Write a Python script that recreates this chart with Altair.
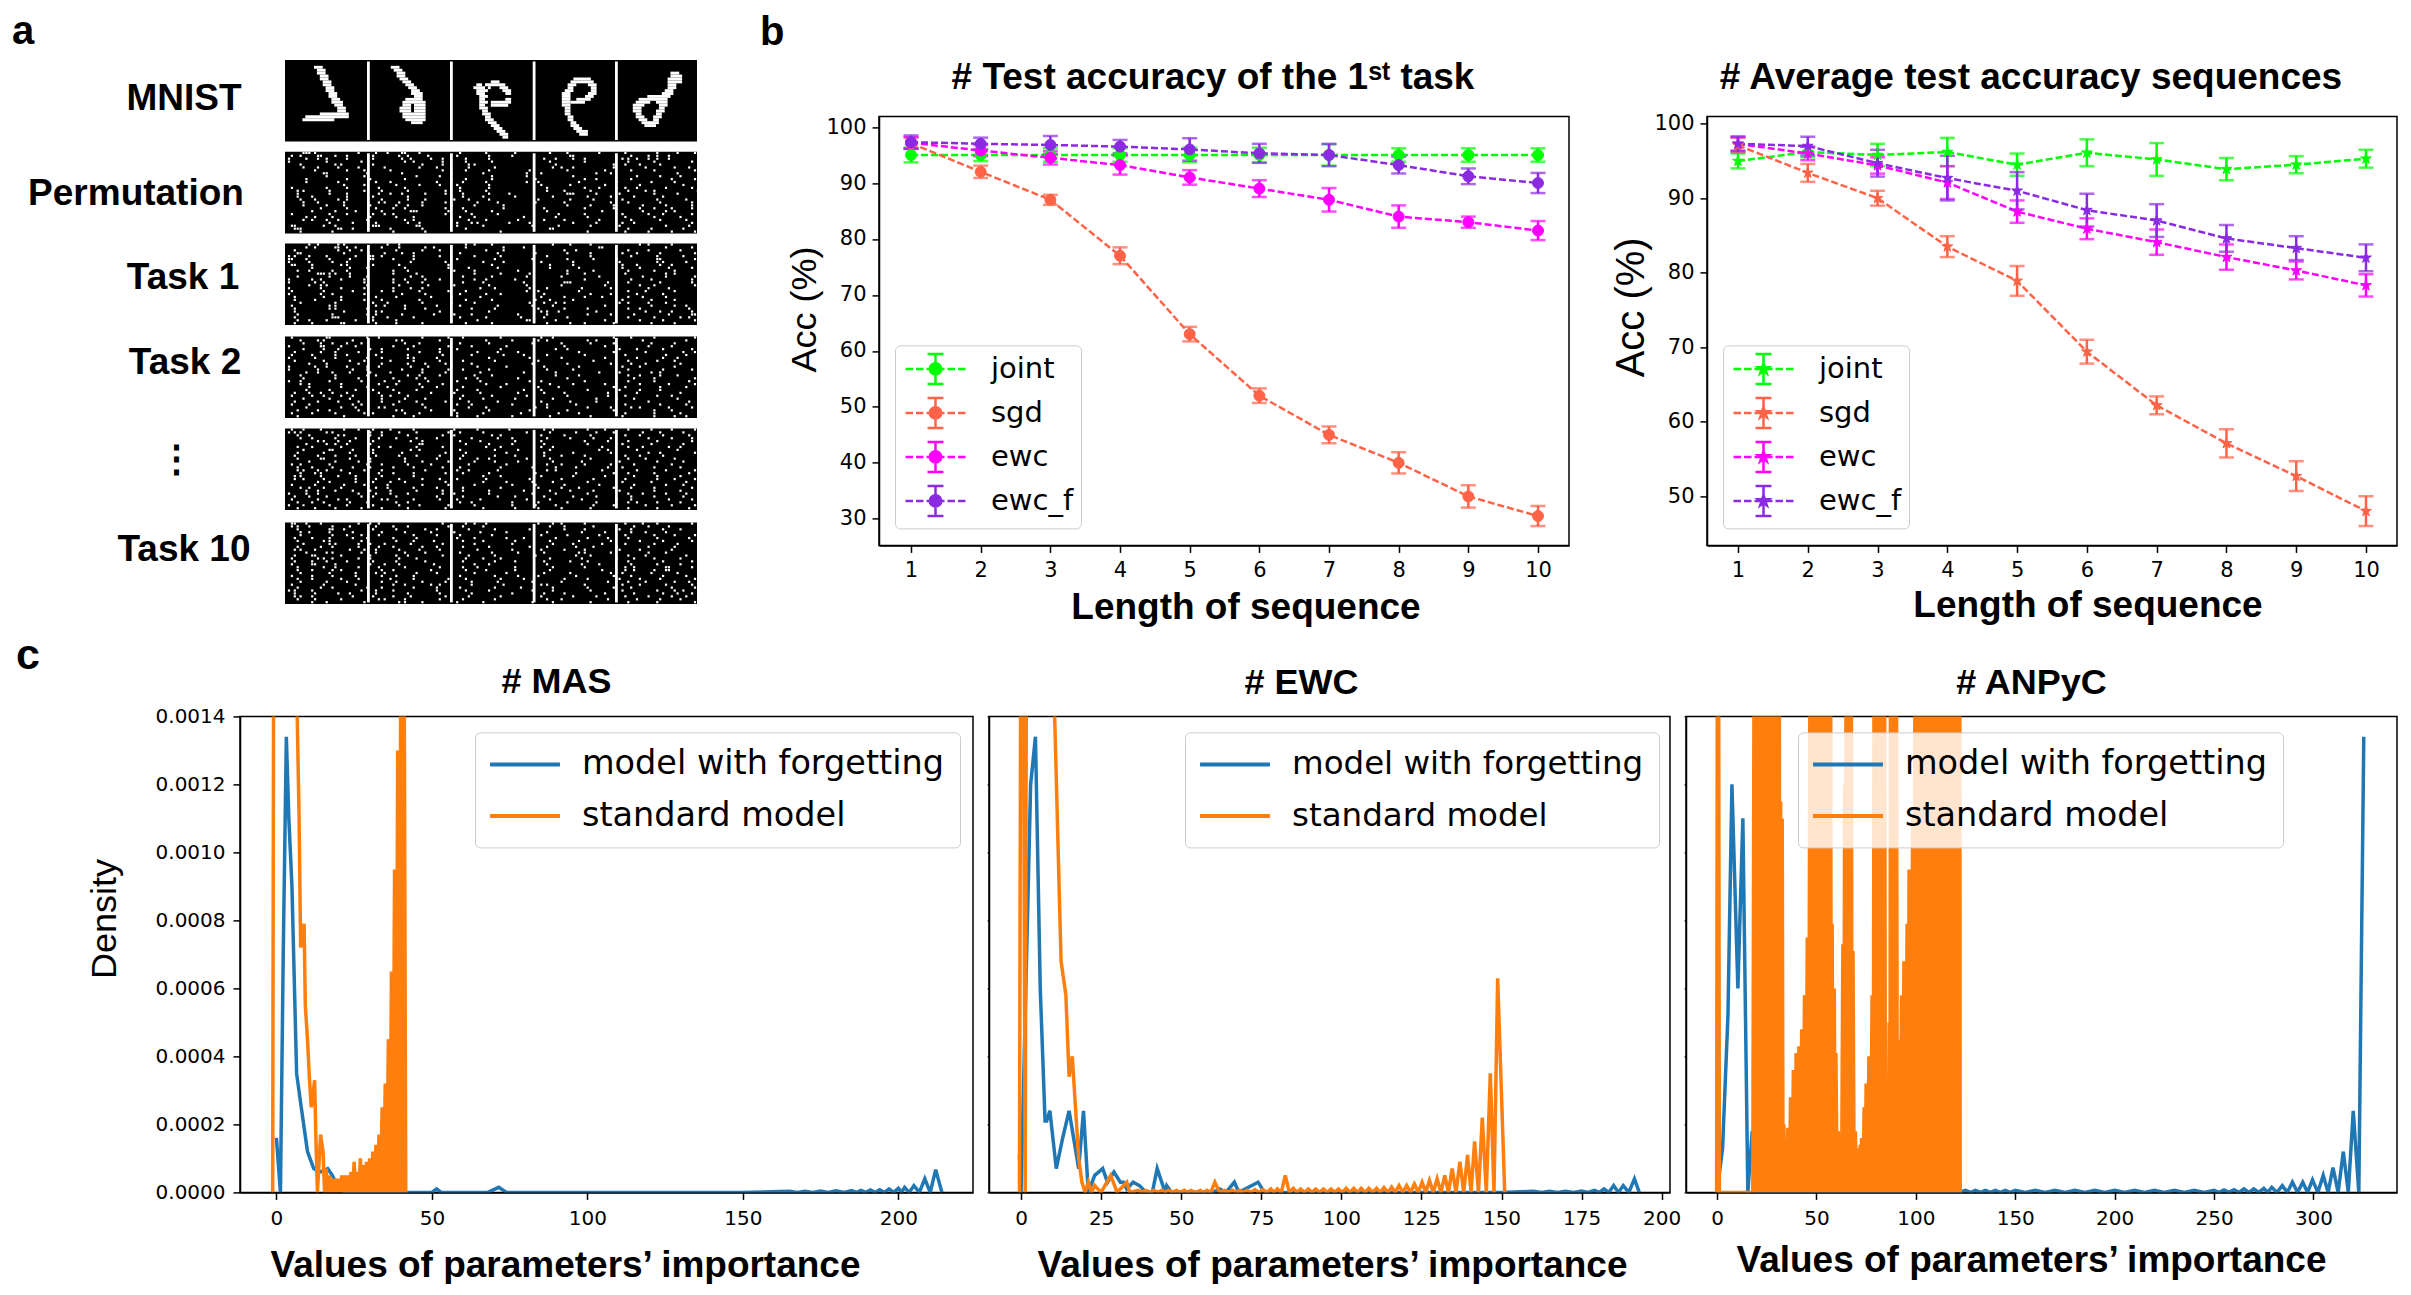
import altair as alt
import pandas as pd

# ---------- panel a : image strips ----------
ROW_LABELS = ["MNIST", "Permutation", "Task 1", "Task 2", "⋮", "Task 10"]
LABEL_CX = [184, 136, 183, 185, 176, 184]
LABEL_CY = [99, 194, 278, 363, 460, 550]
STRIP_TOPS = [59.6, 151.4, 243, 336, 428, 522]
SEPARATORS = [82, 165, 247.7, 330]

# MNIST digits: for each tile, {row: [(first col, last col), ...]}
DIGITS = [
    {2:[(10,12)],3:[(11,13)],4:[(11,13)],5:[(12,14)],6:[(12,14)],7:[(13,15)],8:[(13,15)],9:[(14,16)],10:[(14,16)],
     11:[(15,17)],12:[(15,17)],13:[(16,18)],14:[(16,19)],15:[(17,19)],16:[(18,20)],17:[(18,20)],18:[(12,21)],19:[(7,21)],20:[(6,16)]},
    {2:[(8,10)],3:[(9,11)],4:[(10,12)],5:[(10,12)],6:[(11,13)],7:[(12,14)],8:[(13,15)],9:[(14,16)],10:[(15,17)],11:[(15,18)],
     12:[(16,18)],13:[(13,18)],14:[(12,19)],15:[(12,14),(16,19)],16:[(11,14),(16,19)],17:[(11,14),(16,19)],18:[(12,19)],19:[(12,19)],20:[(13,19)],21:[(15,18)]},
    {7:[(14,16)],8:[(9,10),(12,18)],9:[(8,11),(13,13),(17,19)],10:[(9,12),(18,20)],11:[(9,11),(19,20)],12:[(10,12)],13:[(10,11),(19,20)],
     14:[(10,12),(14,20)],15:[(10,11),(14,19)],16:[(10,12)],17:[(11,12)],18:[(11,13)],19:[(12,13)],20:[(12,14)],21:[(13,15)],22:[(14,16)],
     23:[(15,17)],24:[(16,18)],25:[(17,19)],26:[(18,19)]},
    {6:[(14,19)],7:[(13,20)],8:[(12,14),(19,21)],9:[(12,13),(20,21)],10:[(11,13),(20,21)],11:[(10,12),(19,21)],12:[(10,12),(18,20)],
     13:[(10,12),(15,19)],14:[(10,12),(13,17)],15:[(10,12)],16:[(11,12)],17:[(11,12)],18:[(11,12)],19:[(12,13)],20:[(12,13)],21:[(13,14)],
     22:[(13,15)],23:[(14,16)],24:[(15,18)],25:[(16,18)]},
    {4:[(19,21)],5:[(19,22)],6:[(18,22)],7:[(18,22)],8:[(18,20)],9:[(18,20)],10:[(17,19)],11:[(16,19)],12:[(11,18)],13:[(8,17)],
     14:[(7,11),(14,17)],15:[(6,9),(15,17)],16:[(6,8),(15,16)],17:[(6,8),(14,16)],18:[(7,8),(14,15)],19:[(7,9),(13,15)],20:[(8,10),(13,14)],
     21:[(9,14)],22:[(10,13)]},
]

# White pixels of the permuted strips, by strip row: column numbers across the whole strip
PERMUTATION = [
 [6,7,8,10,25,31,35,40,41,46,60,69,79,91,97,108,117,128,135,141],
 [2,5,11,12,17,21,30,39,42,49,59,70,78,98,99,119,125,128,132],
 [1,7,11,14,21,30,40,43,50,54,62,70,89,93,99,103,116,118,121,125,128,132],
 [1,14,26,41,44,54,62,71,91,103,118,127,140],
 [5,17,19,30,47,54,63,65,93,113,117,122,129],
 [6,11,18,25,34,46,52,63,72,92,95,99,113,124,134,139],
 [10,21,27,36,54,62,70,84,97,110,119,127,141],
 [13,14,28,40,57,68,83,88,107,112,135],
 [14,27,45,53,71,83,99,121,129,136],
 [7,21,29,41,57,62,71,86,103,107,119,133,141],
 [7,18,31,36,52,61,69,83,87,101,114,126,134],
 [20,27,38,46,53,59,70,88,98,110,122,137],
 [2,14,21,32,41,60,70,90,103,108,114,117,121,131,140],
 [4,6,15,27,33,42,55,60,69,90,96,105,118,124,127,142],
 [4,15,21,32,36,40,48,55,61,70,77,97,98,99,107,115,127,135],
 [4,9,21,30,42,57,61,68,79,92,104,112,120,130],
 [5,10,18,21,33,42,48,58,63,70,87,98,106,116,128,138],
 [6,11,20,32,34,39,47,55,66,73,86,96,112,118,129,140],
 [6,14,20,29,38,42,47,57,65,75,97,105,113,123,131,140],
 [12,21,31,37,41,55,61,75,89,103,113,122,127,133,140],
 [9,17,24,33,43,44,45,56,62,71,90,109,123,131,134],
 [2,15,21,30,34,37,55,64,73,94,103,116,125,130,140],
 [7,10,16,29,38,44,60,65,82,93,104,117,127,136],
 [6,9,14,18,28,41,44,57,63,69,80,89,96,108,119,129,138],
 [15,23,31,42,46,59,64,66,77,84,99,107,116,120,140],
 [2,3,13,17,30,31,32,45,46,59,68,85,94,105,115,131,139],
 [3,4,5,18,19,23,36,47,62,91,92,118,126,137],
 [5,16,37,48,74,104,117,125,133,141],
]
TASK1 = [
 [8,11,18,20,35,39,62,65,71,92,98,105,122,125,133],
 [7,10,17,18,21,24,33,39,48,51,62,75,82,108,109,131,140],
 [3,18,22,26,38,47,53,69,75,96,100,118,125,136],
 [4,5,20,34,40,44,60,73,86,97,105,116,121,129,141],
 [1,3,8,14,24,29,30,33,44,53,57,65,74,90,105,119,128,137],
 [1,2,7,15,22,29,30,37,44,59,72,85,97,106,114,128,129,141],
 [1,8,16,21,43,55,68,75,88,99,115,128,130,138],
 [2,3,9,19,21,30,39,56,71,91,99,116,121,129,133],
 [9,22,28,41,56,63,73,91,101,116,122,132,140],
 [4,8,16,21,37,42,58,65,80,97,106,118,127,134],
 [11,12,13,15,17,22,37,45,65,74,84,97,103,117,131,134],
 [4,15,22,28,43,47,61,71,83,95,108,123,131,141],
 [1,9,12,19,27,37,41,48,53,65,69,79,103,119,126,140],
 [1,10,13,27,37,42,47,61,68,82,96,97,98,111,118,129,140],
 [8,12,14,28,39,49,58,70,83,95,110,122,127,141],
 [1,12,19,27,37,43,47,67,72,84,90,102,112,125,132],
 [2,13,23,33,37,46,56,62,83,87,101,118,124,134],
 [1,12,16,27,40,48,60,69,74,89,105,112,121,130],
 [3,13,19,31,38,50,57,67,88,96,103,109,118,123,131],
 [3,10,19,27,33,46,62,71,86,91,99,116,126,134],
 [5,17,30,35,47,57,65,84,89,93,96,115,118,125,131],
 [2,15,17,31,34,41,52,60,73,85,92,110,126,134,138],
 [3,15,17,28,41,48,64,72,87,96,104,118,122,139],
 [3,20,31,33,53,70,88,90,94,107,124,129,133,140],
 [4,16,28,31,40,51,58,64,80,90,104,112,120,132,140,141],
 [3,16,17,18,30,35,44,60,69,81,89,97,118,127,136,139],
 [4,8,14,24,30,38,57,66,83,84,93,110,122,130,141],
 [3,9,19,20,31,38,47,62,71,90,98,103,113,126,134],
]
TASK2 = [
 [2,14,15,28,32,47,56,61,74,88,92,113,119,127,141],
 [5,11,13,23,38,40,53,69,78,87,90,104,107,123,138],
 [6,12,16,21,26,41,46,60,70,85,95,105,113,126,134],
 [1,12,13,19,24,37,44,56,64,76,96,110,114,125,133],
 [6,13,18,29,33,42,53,59,74,93,97,115,121,130,140],
 [3,12,17,25,33,46,53,66,73,80,101,113,124,137,141],
 [2,9,17,21,31,42,54,64,75,82,90,103,117,131,138],
 [1,10,17,28,33,42,44,52,70,84,95,110,121,130,135],
 [3,13,22,27,36,44,53,61,72,87,106,118,128,134],
 [8,14,25,33,42,48,55,64,85,97,112,119,124,136],
 [1,10,14,21,28,32,43,49,57,66,76,89,101,116,122,134],
 [1,11,23,28,40,47,56,61,70,90,99,118,130,140],
 [7,11,16,22,29,36,47,55,67,82,93,108,115,126,129],
 [5,17,28,31,42,46,53,65,71,93,101,118,122,129,135],
 [6,17,25,37,45,48,62,66,80,97,114,120,127,141],
 [1,5,15,26,34,39,49,59,67,84,88,103,118,127,139],
 [5,8,19,32,38,46,54,69,76,91,99,110,122,132,141],
 [8,19,28,35,47,52,61,74,87,94,113,117,129,138],
 [7,15,24,30,37,45,59,66,82,88,104,115,122,129],
 [3,8,12,16,21,32,39,50,58,67,80,89,96,111,121,136],
 [2,9,13,19,23,33,36,42,57,61,71,83,97,111,117,128,133],
 [6,15,22,33,41,48,60,68,79,92,107,114,120,135],
 [3,11,18,25,33,39,45,55,63,73,88,98,107,125,139],
 [2,8,23,26,37,47,59,64,78,90,100,117,129,138],
 [7,19,24,32,34,48,63,69,86,90,104,112,119,122,132,140],
 [4,11,15,25,38,40,50,58,70,84,97,113,127,133],
 [2,9,17,27,30,41,46,59,68,81,94,101,117,127,136],
 [4,20,37,44,59,66,78,91,105,116,127,134,138],
]
DOTS_GAP = [
 [2,6,12,20,25,30,36,44,58,66,77,89,92,104,110,118,126,133,141],
 [1,3,5,14,16,29,33,39,45,56,60,68,83,91,100,107,113,123,129,137],
 [4,8,18,20,29,33,42,54,58,71,74,88,96,105,117,122,130,139],
 [5,9,17,24,32,38,45,52,64,73,78,90,98,106,112,125,133,140],
 [11,13,18,22,30,43,47,60,67,79,88,103,111,118,128,140],
 [7,14,17,21,29,46,47,62,70,78,89,104,116,126,137],
 [4,9,19,32,36,45,54,69,74,88,92,109,118,123,132,136],
 [6,15,16,23,30,43,46,60,72,80,91,108,111,121,135],
 [4,13,22,30,40,55,62,76,89,99,112,125,129,141],
 [3,11,17,24,31,39,45,53,61,72,79,89,95,103,117,122,130],
 [4,12,13,22,29,41,52,60,66,70,83,91,105,118,124,134],
 [8,17,25,29,41,47,56,65,72,80,92,102,115,128,137],
 [2,5,15,28,33,42,50,63,76,90,95,103,112,120,133],
 [4,9,16,23,29,37,44,54,60,74,85,93,100,111,116,127,136],
 [4,6,11,14,19,27,33,48,59,63,73,90,93,109,121,131,141],
 [5,10,12,22,32,37,44,55,61,70,86,100,113,118,127,139],
 [3,5,12,18,24,33,44,57,68,74,88,99,110,120,128,136],
 [3,6,13,24,31,39,47,53,59,69,84,95,106,117,128,134,141],
 [11,15,24,30,36,41,55,68,76,85,92,104,116,126,138],
 [2,10,20,27,35,47,56,65,78,86,96,108,120,131,137],
 [5,8,13,19,31,35,44,52,61,74,87,95,101,113,119,127,140],
 [7,11,17,23,29,36,45,54,61,70,82,91,98,106,115,127,136],
 [1,7,11,25,31,36,42,54,58,70,85,93,104,118,123,131,138],
 [3,8,14,26,30,38,52,61,73,79,89,99,107,119,127,137],
 [2,11,18,21,33,35,44,53,59,67,83,91,102,114,119,132,140],
 [4,9,13,22,28,38,42,60,64,78,87,97,107,118,121,128,136],
 [1,6,15,21,30,39,46,56,65,78,86,93,106,113,124,133,141],
 [4,10,17,26,33,42,55,68,79,87,95,105,118,128,139],
]
DOTS_LAST = [
 [2,3,7,12,25,29,32,54,62,65,69,87,92,95,103,117,123,128,140],
 [2,4,8,16,22,31,37,42,56,61,68,91,96,106,120,125,132],
 [4,15,16,20,30,38,48,52,63,72,84,96,103,115,119,130,136],
 [5,8,15,23,33,41,50,58,67,76,90,102,110,119,124,131],
 [5,16,21,26,32,44,52,60,71,88,97,108,117,127,134,141],
 [3,9,15,23,28,37,45,59,65,76,82,93,104,111,118,128,139],
 [4,13,15,26,38,44,51,61,68,79,91,101,112,122,130,140],
 [6,15,17,25,29,34,43,54,65,78,92,99,109,117,127,135],
 [4,12,16,25,32,37,47,52,61,70,84,90,100,106,114,125,134],
 [3,5,10,22,27,31,39,46,53,66,78,88,96,103,115,122,133],
 [7,14,16,26,31,41,48,60,71,80,89,101,103,112,125,131],
 [3,9,10,19,29,38,42,54,63,72,86,100,105,118,124,138],
 [2,11,13,16,25,29,39,45,62,68,74,91,102,114,120,127,136],
 [3,9,14,21,30,38,48,61,72,79,89,98,104,118,130,140],
 [2,9,10,17,29,34,39,51,65,70,90,102,108,119,128,136],
 [4,13,17,25,32,41,53,61,66,79,92,103,117,120,131,132,140],
 [4,9,16,19,33,37,50,62,69,79,91,109,117,120,127,131,132],
 [5,15,24,31,34,45,52,65,76,89,98,112,116,126,135],
 [2,9,16,24,33,38,44,60,72,80,87,100,113,119,130,138],
 [4,9,19,25,36,44,56,62,74,82,96,104,115,122,129,141],
 [5,14,21,33,38,47,55,64,73,85,95,111,118,124,134,139],
 [2,13,24,37,41,50,53,64,75,88,90,103,116,122,131,140],
 [4,12,16,28,33,44,52,60,72,81,92,104,113,119,133,141],
 [1,3,9,26,31,37,52,62,70,85,92,105,116,128,134,137],
 [3,10,18,22,31,42,53,64,78,89,96,110,120,130,135,140],
 [3,5,9,23,30,37,43,55,63,74,88,99,107,117,125,133,138],
 [4,10,19,32,34,41,53,61,72,90,95,111,121,129,136],
 [9,14,27,39,41,47,59,68,85,92,105,118,128,141],
]

PANEL_TEXT = ["a", "b"]
PANEL_TEXT_X = [12, 760]
PANEL_TEXT_Y = [44, 45]

# ---------- panel b : accuracy ----------
SEQ = [1, 2, 3, 4, 5, 6, 7, 8, 9, 10]
NAMES = ["joint", "sgd", "ewc", "ewc_f"]
COLORS = ["#00ff00", "#ff6347", "#ff00ff", "#8a2be2"]

T1_JOINT = [95, 95, 95, 95, 95, 95, 95, 95, 95, 95]
T1_JOINT_E = [1.3, 1.1, 1.2, 1.2, 1.3, 1.3, 1.9, 1.2, 1.2, 1.2]
T1_SGD = [97.1, 92, 87, 77, 63, 52, 45, 40, 34, 30.5]
T1_SGD_E = [1, 1.1, 0.9, 1.5, 1.3, 1.3, 1.5, 1.9, 2, 1.8]
T1_EWC = [97.2, 95.8, 94.5, 93.2, 91, 89, 87, 84, 83, 81.5]
T1_EWC_E = [1, 1, 1.2, 1.7, 1.3, 1.5, 2.1, 2, 1, 1.7]
T1_EWCF = [97.3, 97, 96.8, 96.5, 96, 95.3, 95, 93.2, 91.2, 90]
T1_EWCF_E = [1.2, 1.1, 1.6, 1.2, 2, 1.7, 2, 1.5, 1.4, 1.8]

AV_JOINT = [95, 96.2, 95.8, 96.2, 94.5, 96.1, 95.2, 93.9, 94.5, 95.3]
AV_JOINT_E = [1, 0.7, 1.5, 1.9, 1.5, 1.8, 2.2, 1.5, 1.15, 1.2]
AV_SGD = [97.1, 93.4, 90, 83.5, 78.9, 69.4, 62.2, 57.1, 52.7, 48]
AV_SGD_E = [1, 1.2, 1, 1.4, 2, 1.6, 1.2, 1.9, 2, 2]
AV_EWC = [97.3, 96, 94.4, 92.1, 88.2, 85.9, 84.1, 82.1, 80.3, 78.3]
AV_EWC_E = [0.9, 0.9, 1.1, 2.2, 1.5, 1.4, 1.7, 1.7, 1.2, 1.5]
AV_EWCF = [97.3, 97, 94.7, 92.7, 91, 88.4, 87, 84.6, 83.3, 82]
AV_EWCF_E = [1, 1.25, 1.8, 3, 2.5, 2.2, 2.2, 1.8, 1.6, 1.8]

# ---------- panel c : densities ----------
DENS = ["model with forgetting", "standard model"]
DCOL = ["#1f77b4", "#ff7f0e"]

MAS_B_X = [0, 1.3, 2.2, 3.2, 4, 5, 6.5, 8, 10, 12, 14, 16.5, 18, 19, 20, 22, 50, 51.5, 53, 68, 71.5, 74, 150]
MAS_B_Y = [.00016, 0, .0007, .00134, .0011, .0009, .00035, .00025, .00012, .00007, .00006, .00007, .00005, .00003, .00003, 0, 0, .00001, 0, 0, .000015, 0, 0]
MAS_B_PX = [165, 170, 175, 180, 185, 188, 191, 194, 197, 200, 202, 205, 208.5, 212]
MAS_B_PY = [.000003, .000003, .000004, .000005, .000005, .000006, .000007, .000008, .00001, .000012, .000015, .00002, .00004, .000067]
MAS_O_X = [-1.2, -0.6, 6.2, 6.7, 7.3, 7.8, 8.9, 9.3, 10, 10.6, 11.2, 12.3, 12.7, 13.2, 14.2]
MAS_O_Y = [0, .003, .003, .0014, .0011, .00072, .00079, .00055, .00045, .00034, .00025, .00033, .00016, 0, .00017]
MAS_O_PX = [15, 16, 17, 18, 19, 20, 21, 22, 23, 24, 25, 26, 27, 28, 29, 30, 31, 32, 33, 34, 35, 36, 37, 38, 39, 40, 41]
MAS_O_PY = [.00012, .00007, .00005, .00004, .00004, .00004, .00005, .00005, .00005, .00006, .00009, .00006, .0001, .00008, .00009, .0001, .00012, .00014, .00017, .00025, .00032, .00045, .00065, .00095, .0013, .0016, .0018]

EWC_B_X = [-0.5, 0, 2, 3, 4.5, 6, 7.5, 8, 9, 11, 13, 15, 18, 19.5, 21, 23, 25.5, 27, 29, 31, 32, 33, 35, 37, 39, 41, 42.5, 45, 45.5, 47, 60, 62, 64, 66.6, 68, 74, 76, 150]
EWC_B_Y = [.00011, 0, .0008, .0012, .00134, .0006, .00021, .00021, .00024, .00007, .00016, .00024, .00007, .00024, 0, .00005, .00007, .00003, .00006, .00003, .00003, .00001, .00003, .00002, 0, 0, .00007, 0, .00002, 0, 0, .00001, 0, .00003, 0, .00003, 0, 0]
EWC_B_PX = [160, 165, 170, 175, 179, 182, 185, 188, 191.5]
EWC_B_PY = [.000003, .000003, .000003, .000004, .000006, .00001, .00002, .00002, .00004]
EWC_O_X = [-0.5, 0, 0.6, 1.3, 2, 10, 10.5, 12.5, 14, 15, 16, 17, 18, 19, 20, 21, 22, 23, 25, 28, 30, 33, 34]
EWC_O_Y = [0, .002, .002, 0, .003, .003, .0014, .00068, .00058, .00034, .0004, .00025, .0001, .00003, 0, .00003, 0, .00002, 0, .00005, 0, .00003, 0]
EWC_O_PX = [36.5, 39, 41.5, 44, 46, 48.5, 51, 53, 56, 58, 60.5, 63.5, 66, 68.3, 70.5, 73, 75.5, 78, 80, 82.5, 85, 87.3, 89.7, 92, 94.4, 96.8, 99.1, 101.5, 103.9, 106.2, 108.6, 111, 113.3, 115.7, 118, 120.4, 122.8, 125.2, 127.5, 129.9, 132.3, 134.6, 137, 139.4, 141.6, 144, 146.5, 148.8]
EWC_O_PY = [.000006, .000006, .000006, .000006, .000006, .000006, .000006, .000006, .000006, .000006, .00003, .000006, .000006, .000006, .000006, .000008, .000008, .00001, .00001, .00005, .000012, .00001, .00001, .00001, .00001, .00001, .00001, .000012, .000012, .000012, .000012, .000012, .000014, .000016, .00002, .00002, .000025, .00003, .000035, .00004, .00005, .00007, .00009, .00011, .00015, .00022, .00035, .00063]

ANP_B_X = [0, 2.8, 5.5, 7.5, 10.5, 13, 15.5, 17.7, 20, 122]
ANP_B_Y = [0, .00013, .00052, .0012, .0006, .0011, 0, .00018, 0, 0]
ANP_B_PX = [125, 130, 135, 140, 145, 150, 160, 170, 180, 190, 200, 210, 220, 230, 240, 250, 255, 260, 265, 270, 275, 279, 284.3, 289.4, 294.6, 299.5, 304.9, 309.8, 315, 320]
ANP_B_PY = [.000006, .000006, .000006, .000006, .000006, .000006, .000006, .000006, .000006, .000006, .000006, .000006, .000006, .000006, .000006, .000006, .000007, .000008, .00001, .00001, .000012, .000015, .00002, .00003, .00003, .000037, .00005, .000073, .00012, .00024]
ANP_B_EX = [322.8, 325.3]
ANP_B_EY = [0, .00134]
ANP_O_X = [-0.2, 0.5, 1.2, 18]
ANP_O_Y = [0, .003, 0, 0]
ANP_O_PX = [19, 20.4, 21.8, 23.2, 24.6, 26, 27.4, 28.8, 30.2, 31.2, 32, 32.8, 33.6, 34.6, 35.6, 37, 38.4, 39.8, 41.2, 42.6, 44, 45.4, 46.8, 47.8, 48.9, 50, 51.4, 52.8, 54.2, 55.6, 57, 57.9, 59, 59.8, 61, 62, 63.3, 64.2, 65, 66.2, 67.4, 68.4, 69.6, 70.8, 72, 72.7, 74, 75, 76.4, 78, 79.2, 80.4, 81.6, 82.8, 84, 85.5, 86.6, 87.4, 88.6, 90, 91.4, 92.8, 94, 95.6, 96.6, 98.4, 99.8, 101.2, 102.6, 104, 105.4, 106.8, 108.2, 109.6, 111, 112.4, 113.8, 115.2, 116.6, 118, 119.4, 120.8, 122]
ANP_O_PY = [.0025, .0025, .0025, .0025, .0025, .0025, .0025, .0025, .0025, .0025, .00115, .0011, .0002, .00012, .00019, .00028, .00036, .00041, .00043, .00048, .00058, .00075, .0017, .0025, .0009, .0025, .0025, .0025, .0025, .0025, .0025, .00079, .0006, .00041, .00018, .00013, .00073, .0012, .0025, .0025, .0025, .00071, .00018, .00013, .00014, .00016, .00025, .00032, .0004, .00058, .0025, .0025, .0025, .0025, .0025, .00012, .0005, .0025, .0025, .0025, .00045, .00058, .00068, .00079, .00095, .0011, .0025, .0025, .0025, .0025, .0025, .0025, .0025, .0025, .0025, .0025, .0025, .0025, .0025, .0025, .0025, .0025, .0025]

SANS = "Liberation Sans"
TICK_FONT = "DejaVu Sans"


def comb(px, py):
    xs, ys = [], []
    for i, (a, b) in enumerate(zip(px, py)):
        if i:
            xs.append((px[i - 1] + a) / 2)
            ys.append(0)
        xs.append(a)
        ys.append(b)
    return xs, ys


# ---------- build panel a ----------
CW = 2.9
CH = 81.6 / 28
DOT = 2.2
OX = 285
strip_bg = pd.DataFrame({"x": [OX] * 6, "x2": [OX + 412] * 6, "y": STRIP_TOPS,
                         "y2": [t + 81.6 for t in STRIP_TOPS]})
sep_rows, cells = [], []
for t in STRIP_TOPS:
    for s in SEPARATORS:
        sep_rows.append({"x": OX + s, "x2": OX + s + 2.8, "y": t + 1.5, "y2": t + 80})
for tile, digit in enumerate(DIGITS):
    for row, runs in digit.items():
        for first, last in runs:
            x0 = OX + tile * 82.6 + first * CW
            cells.append({"x": x0, "x2": x0 + (last - first + 1) * CW,
                          "y": STRIP_TOPS[0] + row * CH, "y2": STRIP_TOPS[0] + (row + 1) * CH})
for strip, rows in zip(STRIP_TOPS[1:], [PERMUTATION, TASK1, TASK2, DOTS_GAP, DOTS_LAST]):
    for r, cols in enumerate(rows):
        for c in cols:
            x0 = OX + c * CW
            cells.append({"x": x0, "x2": x0 + DOT, "y": strip + r * CH, "y2": strip + r * CH + DOT})

AX0, AY0, AW, AH = 240, 116, 501, 429
sxa = alt.Scale(domain=[AX0, AX0 + AW], range=[0, AW], nice=False, zero=False)
sya = alt.Scale(domain=[AY0, AY0 + AH], range=[0, AH], nice=False, zero=False)


def rects(df, color):
    return alt.Chart(pd.DataFrame(df)).mark_rect(color=color).encode(
        x=alt.X("x:Q", scale=sxa, axis=None), x2="x2:Q",
        y=alt.Y("y:Q", scale=sya, axis=None), y2="y2:Q")


def texts(labels, xs, ys, size, align):
    return alt.Chart(pd.DataFrame({"t": labels, "x": xs, "y": ys})).mark_text(
        font=SANS, fontWeight="bold", fontSize=size, align=align, baseline="alphabetic"
    ).encode(x=alt.X("x:Q", scale=sxa, axis=None), y=alt.Y("y:Q", scale=sya, axis=None), text="t:N")


row_text = alt.Chart(pd.DataFrame({"t": ROW_LABELS, "x": LABEL_CX, "y": LABEL_CY})).mark_text(
    font=SANS, fontWeight="bold", fontSize=37, align="center", baseline="middle"
).encode(x=alt.X("x:Q", scale=sxa, axis=None), y=alt.Y("y:Q", scale=sya, axis=None), text="t:N")

panel_a = alt.layer(
    rects(strip_bg, "black"), rects(sep_rows, "white"), rects(cells, "white"),
    row_text, texts(PANEL_TEXT, PANEL_TEXT_X, PANEL_TEXT_Y, 40, "left"),
).properties(width=AW, height=AH, view=alt.ViewBackground(stroke=None))


# ---------- build panel b ----------
def glyph(marker):
    dashes = "M-2,0L-1.5,0M-1.3,0L-0.8,0M-0.6,0L-0.1,0M0.1,0L0.6,0M0.8,0L1.3,0M1.5,0L2,0"
    bar = "M0,-1L0,1M-0.53,-1L0.53,-1M-0.53,1L0.53,1"
    return dashes + bar + marker


STAR = "M0,-1L0.225,-0.309L0.951,-0.309L0.363,0.118L0.588,0.809L0,0.382L-0.588,0.809L-0.363,0.118L-0.951,-0.309L-0.225,-0.309Z"
CIRCLE_L = "M-0.38,0A0.38,0.38 0 1,1 0.38,0A0.38,0.38 0 1,1 -0.38,0Z"
STAR_L = "M0,-0.38L0.086,-0.117L0.361,-0.117L0.138,0.045L0.223,0.307L0,0.145L-0.223,0.307L-0.138,0.045L-0.361,-0.117L-0.086,-0.117Z"


def acc_panel(series, errs, title, dx, dy, yticks, ydom, xdom, shape, mark_size, leg_marker, leg_x,
              title_x, title_y, ytitle_y, ysize):
    rows = []
    for name, vals, es in zip(NAMES, series, errs):
        for x, v, e in zip(SEQ, vals, es):
            rows.append({"x": x, "v": v, "lo": v - e, "hi": v + e, "name": name})
    df = pd.DataFrame(rows)
    sc = alt.Scale(domain=NAMES, range=COLORS)
    sy = alt.Scale(domain=ydom, nice=False, zero=False)
    X = alt.X("x:Q", scale=alt.Scale(domain=xdom, nice=False, zero=False),
              axis=alt.Axis(values=SEQ, format="d", grid=False, title="Length of sequence",
                            titleFont=SANS, titleFontWeight="bold", titleFontSize=37,
                            titleX=title_x, titleY=title_y, titleAlign="center", titleBaseline="alphabetic",
                            labelFont=TICK_FONT, labelFontSize=21, labelColor="black", labelPadding=7,
                            tickColor="black", tickWidth=1.5, tickSize=7, domainColor="black", domainWidth=1.5))
    Y = alt.Y("v:Q", scale=sy,
              axis=alt.Axis(values=yticks, grid=False, title="Acc (%)", titleFont=SANS,
                            titleFontWeight="normal", titleFontSize=ysize, titleX=-75, titleY=ytitle_y,
                            titleAlign="center", titleBaseline="middle", titleAngle=270,
                            labelFont=TICK_FONT, labelFontSize=21, labelColor="black", labelPadding=6,
                            tickColor="black", tickWidth=1.5, tickSize=7, domainColor="black", domainWidth=1.5))
    legend = alt.Legend(title=None, orient="none", legendX=leg_x, legendY=229, zindex=1,
                        fillColor="rgba(255,255,255,0.8)", strokeColor="#cccccc", cornerRadius=5, padding=7,
                        labelFont=TICK_FONT, labelFontSize=29, labelColor="black", labelLimit=0,
                        symbolType=glyph(leg_marker), symbolSize=900, symbolOffset=17, labelOffset=39,
                        rowPadding=3, symbolStrokeWidth=2.5)
    layers = []
    for name, color in zip(NAMES, COLORS):
        base = alt.Chart(df[df["name"] == name])
        layers += [
            base.mark_rule(strokeWidth=2.5, color=color).encode(x=X, y=alt.Y("lo:Q", scale=sy), y2="hi:Q"),
            base.mark_tick(orient="horizontal", size=15, thickness=2.5, color=color).encode(x=X, y=alt.Y("lo:Q", scale=sy)),
            base.mark_tick(orient="horizontal", size=15, thickness=2.5, color=color).encode(x=X, y=alt.Y("hi:Q", scale=sy)),
            base.mark_line(strokeWidth=2.5, strokeDash=[7, 3], color=color).encode(x=X, y=Y),
        ]
    layers.append(alt.Chart(df).mark_point(shape=shape, filled=True, opacity=1, size=mark_size, strokeWidth=1).encode(
        x=X, y=Y,
        fill=alt.Fill("name:N", scale=sc, legend=legend),
        stroke=alt.Stroke("name:N", scale=sc, legend=legend)))
    return alt.layer(*layers).properties(
        width=690, height=429,
        title=alt.TitleParams(title, font=SANS, fontWeight="bold", fontSize=37, color="black",
                              anchor="middle", dx=dx, dy=dy, offset=22),
        view=alt.ViewBackground(stroke="black", strokeWidth=1.5),
    )


panel_b1 = acc_panel([T1_JOINT, T1_SGD, T1_EWC, T1_EWCF], [T1_JOINT_E, T1_SGD_E, T1_EWC_E, T1_EWCF_E],
                     "# Test accuracy of the 1ˢᵗ task", -11, 3, [30, 40, 50, 60, 70, 80, 90, 100], [25.25, 101.9],
                     [0.54, 10.445], "circle", 120, CIRCLE_L, 16, 366.5, 73, 192.6, 36)
panel_b2 = acc_panel([AV_JOINT, AV_SGD, AV_EWC, AV_EWCF], [AV_JOINT_E, AV_SGD_E, AV_EWC_E, AV_EWCF_E],
                     "# Average test accuracy sequences", -21, 6, [50, 60, 70, 80, 90, 100], [43.4, 100.98],
                     [0.556, 10.444], STAR, 130, STAR_L, 16, 380.5, 71, 190.5, 40)


# ---------- build panel c ----------
def dens_panel(bx, by, ox, oy, title, dx, dy, width, xdom, xticks, title_x, title_y, leg_x, left_axis, lab_size):
    df = pd.DataFrame(
        [{"x": a, "y": b, "s": DENS[0]} for a, b in zip(bx, by)] +
        [{"x": a, "y": b, "s": DENS[1]} for a, b in zip(ox, oy)])
    df["i"] = range(len(df))
    legend = alt.Legend(title=None, orient="none", legendX=leg_x, legendY=16, zindex=1,
                        fillColor="rgba(255,255,255,0.8)", strokeColor="#cccccc", cornerRadius=5, padding=15,
                        labelFont=TICK_FONT, labelFontSize=lab_size, labelColor="black", labelLimit=0,
                        symbolType="M-2.33,0L2.33,0", symbolSize=900, symbolOffset=18, labelOffset=40,
                        rowPadding=17.5, symbolStrokeWidth=4)
    yvals = [0, .0002, .0004, .0006, .0008, .001, .0012, .0014]
    yaxis = alt.Axis(values=yvals, format=".4f", grid=False,
                     title="Density", titleFont=SANS, titleFontWeight="normal", titleFontSize=36,
                     titleX=-136, titleY=202, titleAlign="center", titleBaseline="middle", titleAngle=270,
                     labelFont=TICK_FONT, labelFontSize=20, labelColor="black", labelPadding=8,
                     tickColor="black", tickWidth=1.5, tickSize=7, domainColor="black", domainWidth=1.5) \
        if left_axis else alt.Axis(values=yvals, labels=False, title=None,
                                   grid=False, tickSize=2, tickColor="black", domainColor="black", domainWidth=1.5)
    return alt.Chart(df).mark_line(strokeWidth=3.5, clip=True).encode(
        x=alt.X("x:Q", sort=None, scale=alt.Scale(domain=xdom, nice=False, zero=False),
                axis=alt.Axis(values=xticks, grid=False, title="Values of parameters’ importance",
                              titleFont=SANS, titleFontWeight="bold", titleFontSize=37,
                              titleX=title_x, titleY=title_y, titleAlign="center", titleBaseline="alphabetic",
                              labelFont=TICK_FONT, labelFontSize=20, labelColor="black", labelPadding=9,
                              tickColor="black", tickWidth=1.5, tickSize=7, domainColor="black", domainWidth=1.5)),
        y=alt.Y("y:Q", scale=alt.Scale(domain=[0, .0014], nice=False, zero=False), axis=yaxis),
        color=alt.Color("s:N", scale=alt.Scale(domain=DENS, range=DCOL), legend=legend),
        order=alt.Order("i:Q"),
    ).properties(
        width=width, height=476,
        title=alt.TitleParams(title, font=SANS, fontWeight="bold", fontSize=36, color="black",
                              anchor="middle", dx=dx, dy=dy, offset=14),
        view=alt.ViewBackground(stroke="black", strokeWidth=1.5),
    )


bx, by = comb(MAS_B_PX, MAS_B_PY)
ox, oy = comb(MAS_O_PX, MAS_O_PY)
panel_c1 = dens_panel(MAS_B_X + bx + [214], MAS_B_Y + by + [0], MAS_O_X + ox + [41.6], MAS_O_Y + oy + [0], "# MAS", -50, 9, 733,
                      [-11.7, 224], [0, 50, 100, 150, 200], 325, 84, 235, True, 33.5)
bx, by = comb(EWC_B_PX, EWC_B_PY)
ox, oy = comb(EWC_O_PX, EWC_O_PY)
panel_c2 = dens_panel(EWC_B_X + bx + [193], EWC_B_Y + by + [0], EWC_O_X + ox + [151], EWC_O_Y + oy + [0], "# EWC", -28, 0, 681,
                      [-10, 202.6], [0, 25, 50, 75, 100, 125, 150, 175, 200], 343, 84, 196, False, 32.5)
bx, by = comb(ANP_B_PX, ANP_B_PY)
ox, oy = comb(ANP_O_PX, ANP_O_PY)
panel_c3 = dens_panel(ANP_B_X + bx + ANP_B_EX, ANP_B_Y + by + ANP_B_EY, ANP_O_X + ox + [122.3], ANP_O_Y + oy + [0], "# ANPyC", -10, 0, 711,
                      [-15.6, 342], [0, 50, 100, 150, 200, 250, 300], 345, 79, 112, False, 33.5)

row1 = alt.hconcat(panel_a, panel_b1, panel_b2, spacing=138, bounds="flush").resolve_scale(
    fill="independent", stroke="independent", x="independent", y="independent")
row2 = alt.hconcat(panel_c1, panel_c2, panel_c3, spacing=16, bounds="flush",
                   title=alt.TitleParams("c", font=SANS, fontWeight="bold", fontSize=43, color="black",
                                         anchor="start", frame="group", dx=-224, offset=0, dy=48,
                                         baseline="alphabetic")).resolve_scale(
    color="independent", x="independent", y="independent")
chart = alt.vconcat(row1, row2, spacing=8).properties(
    padding=alt.Padding(left=4, top=4.4, right=0, bottom=0)
).configure(background="white")

chart.save("out.html", embed_options={"renderer": "svg", "actions": False})
